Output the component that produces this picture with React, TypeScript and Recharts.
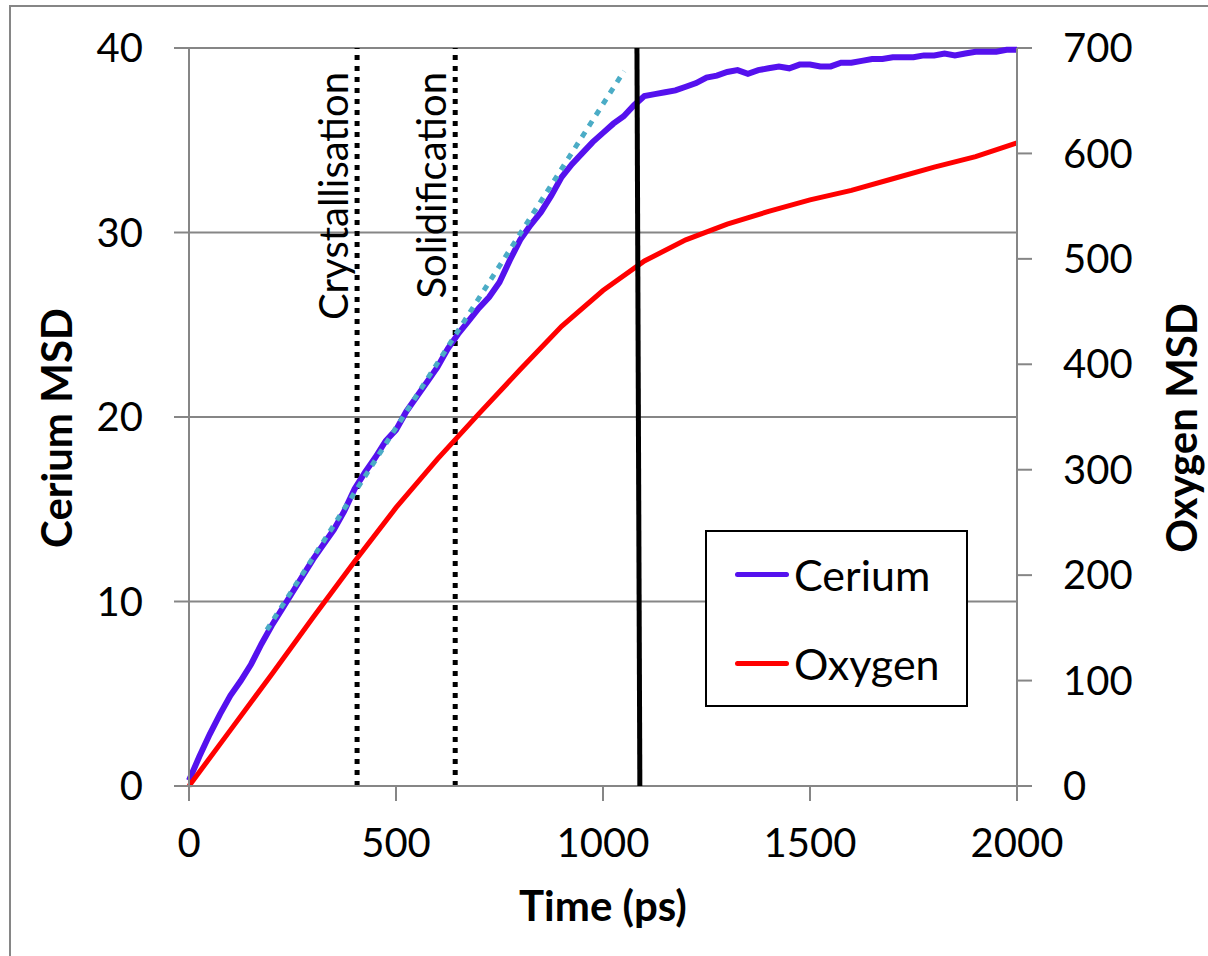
import { LineChart, Line, XAxis, YAxis, CartesianGrid, ReferenceLine, Legend } from 'recharts'

const ceriumTime = [
  0, 25, 50, 75, 100, 125, 150, 175, 200, 225, 250, 275, 300, 325, 350, 375, 400, 425, 450, 475,
  500, 525, 550, 575, 600, 625, 650, 675, 700, 725, 750, 775, 800, 825, 850, 875, 900, 925, 950, 975,
  1000, 1025, 1050, 1075, 1100, 1125, 1150, 1175, 1200, 1225, 1250, 1275, 1300, 1325, 1350, 1375,
  1400, 1425, 1450, 1475, 1500, 1525, 1550, 1575, 1600, 1625, 1650, 1675, 1700, 1725, 1750, 1775,
  1800, 1825, 1850, 1875, 1900, 1925, 1950, 1975, 2000,
]
const ceriumMsd = [
  0.3, 1.6, 2.8, 3.9, 4.9, 5.7, 6.6, 7.7, 8.7, 9.6, 10.5, 11.4, 12.3, 13.1, 13.9, 14.9, 16.1, 17.0, 17.8, 18.7,
  19.3, 20.3, 21.1, 21.9, 22.7, 23.7, 24.5, 25.2, 25.9, 26.5, 27.3, 28.5, 29.6, 30.4, 31.1, 32.0, 33.0, 33.7, 34.3, 34.9,
  35.4, 35.9, 36.3, 36.9, 37.4, 37.5, 37.6, 37.7, 37.9, 38.1, 38.4, 38.5, 38.7, 38.8, 38.6, 38.8,
  38.9, 39.0, 38.9, 39.1, 39.1, 39.0, 39.0, 39.2, 39.2, 39.3, 39.4, 39.4, 39.5, 39.5, 39.5, 39.6,
  39.6, 39.7, 39.6, 39.7, 39.8, 39.8, 39.8, 39.9, 39.9,
]
const oxygenTime = [0, 100, 200, 300, 400, 500, 600, 700, 800, 900, 1000, 1100, 1200, 1300, 1400, 1500, 1600, 1700, 1800, 1900, 2000]
const oxygenMsd = [0, 53, 106, 160, 213, 264, 310, 353, 395, 436, 470, 498, 518, 533, 545, 556, 565, 576, 587, 597, 610]

const timeTicks = [0, 500, 1000, 1500, 2000]
const ceriumTicks = [0, 10, 20, 30, 40]
const oxygenTicks = [0, 100, 200, 300, 400, 500, 600, 700]

const markerTimes = [406, 643]
const markerLabels = ['Crystallisation', 'Solidification']
const cutoffTimes = [1082, 1089]
const fitTimes = [188, 1051]
const fitValues = [8.46, 38.75]

const ceriumData = ceriumTime.map((time, i) => ({ time, msd: ceriumMsd[i] }))
const oxygenData = oxygenTime.map((time, i) => ({ time, msd: oxygenMsd[i] }))

const FONT = 'Lato, "Open Sans", sans-serif'
const GREY = '#868686'
const CERIUM = '#5511ee'
const OXYGEN = '#ff0000'

function MarkerLabel({ viewBox, text }: any) {
  if (!viewBox) return null
  const x = viewBox.x - 9
  const y = viewBox.y + 24
  return (
    <text x={x} y={y} transform={`rotate(-90, ${x}, ${y})`} textAnchor='end' fontSize={40} fontFamily={FONT} fill='#000'>
      {text}
    </text>
  )
}

function AxisTitle({ x, y, text, angle }: { x: number; y: number; text: string; angle: number }) {
  return (
    <text
      x={x}
      y={y}
      transform={angle ? `rotate(${angle}, ${x}, ${y})` : undefined}
      textAnchor='middle'
      dominantBaseline='central'
      fontSize={42}
      fontWeight={700}
      fontFamily={FONT}
      fill='#000'
    >
      {text}
    </text>
  )
}

function LegendBox() {
  const rows = [
    { name: 'Cerium', color: CERIUM },
    { name: 'Oxygen', color: OXYGEN },
  ]
  return (
    <div style={{ width: 263, height: 177, border: '2px solid #000', boxSizing: 'border-box', background: '#fff', position: 'relative', fontFamily: FONT }}>
      {rows.map((r, i) => (
        <div key={r.name} style={{ position: 'absolute', left: 28, top: 42 + i * 89 - 24, display: 'flex', alignItems: 'center', height: 48 }}>
          <div style={{ width: 54, height: 5, background: r.color, borderRadius: 3 }} />
          <span style={{ fontSize: 43, marginLeft: 5, color: '#000' }}>{r.name}</span>
        </div>
      ))}
    </div>
  )
}

export default function App() {
  return (
    <div style={{ position: 'absolute', left: 0, top: 0, width: 1208, height: 956, background: '#fff', overflow: 'hidden' }}>
      <div style={{ position: 'absolute', left: 9, top: 5, width: 1300, height: 1000, borderLeft: `2px solid ${GREY}`, borderTop: `2px solid ${GREY}` }} />
      <div style={{ position: 'absolute', left: 0, top: 0 }}>
        <LineChart width={1208} height={956} margin={{ top: 48, right: 71, bottom: 110, left: 69 }}>
          <CartesianGrid yAxisId='left' vertical={false} stroke={GREY} strokeWidth={2} />
          <XAxis
            dataKey='time'
            type='number'
            domain={[0, 2000]}
            ticks={timeTicks}
            allowDuplicatedCategory={false}
            height={60}
            stroke={GREY}
            strokeWidth={2}
            tickSize={15}
            tickMargin={28}
            tick={{ fill: '#000', fontSize: 40, fontFamily: FONT }}
          />
          <YAxis
            yAxisId='left'
            domain={[0, 40]}
            ticks={ceriumTicks}
            width={120}
            stroke={GREY}
            strokeWidth={2}
            tickSize={15}
            tickMargin={31}
            tick={{ fill: '#000', fontSize: 40, fontFamily: FONT }}
          />
          <YAxis
            yAxisId='right'
            orientation='right'
            domain={[0, 700]}
            ticks={oxygenTicks}
            width={120}
            stroke={GREY}
            strokeWidth={2}
            tickSize={15}
            tickMargin={31}
            tick={{ fill: '#000', fontSize: 40, fontFamily: FONT, textAnchor: 'start' }}
          />
          {markerTimes.map((t, i) => (
            <ReferenceLine
              key={t}
              yAxisId='left'
              x={t}
              stroke='#000'
              strokeWidth={5}
              strokeDasharray='5 6'
              label={<MarkerLabel text={markerLabels[i]} />}
            />
          ))}
          <Line
            yAxisId='left'
            data={ceriumData}
            dataKey='msd'
            name='Cerium'
            stroke={CERIUM}
            strokeWidth={6}
            dot={false}
            type='linear'
            isAnimationActive={false}
          />
          <Line
            yAxisId='right'
            data={oxygenData}
            dataKey='msd'
            name='Oxygen'
            stroke={OXYGEN}
            strokeWidth={5}
            dot={false}
            type='linear'
            isAnimationActive={false}
          />
          <ReferenceLine
            yAxisId='left'
            segment={[
              { x: fitTimes[0], y: fitValues[0] },
              { x: fitTimes[1], y: fitValues[1] },
            ]}
            stroke='#4bacc6'
            strokeWidth={5}
            strokeDasharray='6 7'
            zIndex={700}
          />
          <ReferenceLine
            yAxisId='left'
            segment={[
              { x: cutoffTimes[0], y: 40 },
              { x: cutoffTimes[1], y: 0 },
            ]}
            stroke='#000'
            strokeWidth={5}
            zIndex={700}
          />
          <Legend
            layout='vertical'
            align='center'
            verticalAlign='middle'
            content={() => <LegendBox />}
            wrapperStyle={{ left: 705, top: 530, width: 263, height: 177 }}
          />
          <AxisTitle x={56} y={428} text='Cerium MSD' angle={-90} />
          <AxisTitle x={1181} y={428} text='Oxygen MSD' angle={-90} />
          <AxisTitle x={603} y={905} text='Time (ps)' angle={0} />
        </LineChart>
      </div>
    </div>
  )
}
